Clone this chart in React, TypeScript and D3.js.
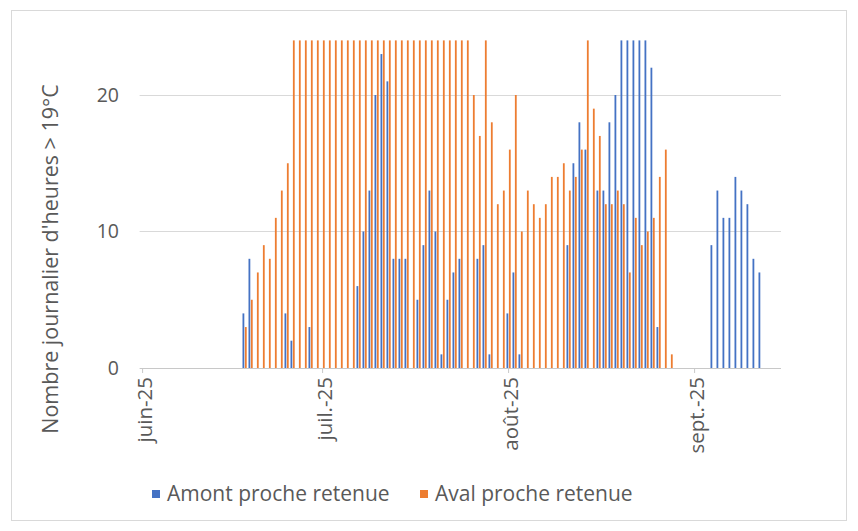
import React from "react";
import * as d3 from "d3";

// ---- data ----
const startDay = "2025-06-18"; // first day with values
const amont: number[] = [
  4, 8, 0, 0, 0, 0, 0, 4, 2, 0, 0, 3, 0, 0, 0, 0, 0, 0, 0, 6,
  10, 13, 20, 23, 21, 8, 8, 8, 0, 5, 9, 13, 10, 1, 5, 7, 8, 0, 0, 8,
  9, 1, 0, 0, 4, 7, 1, 0, 0, 0, 0, 0, 0, 0, 9, 15, 18, 16, 0, 13,
  13, 18, 20, 24, 24, 24, 24, 24, 22, 3, 0, 0, 0, 0, 0, 0, 0, 0, 9, 13,
  11, 11, 14, 13, 12, 8, 7,
];
const aval: number[] = [
  3, 5, 7, 9, 8, 11, 13, 15, 24, 24, 24, 24, 24, 24, 24, 24, 24, 24, 24, 24,
  24, 24, 24, 24, 24, 24, 24, 24, 24, 24, 24, 24, 24, 24, 24, 24, 24, 24, 20, 17,
  24, 18, 12, 13, 16, 20, 10, 13, 12, 11, 12, 14, 14, 15, 13, 14, 16, 24, 19, 17,
  12, 12, 13, 12, 7, 11, 9, 10, 11, 14, 16, 1, 0, 0, 0, 0, 0, 0, 0, 0,
  0, 0, 0, 0, 0, 0, 0,
];
const seriesNames = ["Amont proche retenue", "Aval proche retenue"];
const seriesColors = ["#4472C4", "#ED7D31"];
const monthTicks = ["2025-06-01", "2025-07-01", "2025-08-01", "2025-09-01"];
const monthLabels = ["juin-25", "juil.-25", "août-25", "sept.-25"];
const yTicks = [0, 10, 20];
const yTitle = "Nombre journalier d'heures > 19°C";

const parse = d3.utcParse("%Y-%m-%d");

export default function App() {
  const W = 858, H = 531;
  const plotLeft = 139.6, plotRight = 781;
  const x = d3
    .scaleUtc()
    .domain([parse("2025-06-01")!, parse("2025-09-16")!])
    .range([142.6, 142.6 + 107 * 6]);
  const y = d3.scaleLinear().domain([0, 24]).range([368, 40.4]);
  const start = parse(startDay)!;
  const days = amont.map((_, i) => d3.utcDay.offset(start, i));
  const bw = 1.8;
  const font = "'Open Sans', 'Liberation Sans', sans-serif";
  const textColor = "#595959";

  return (
    <svg
      width={W}
      height={H}
      style={{ position: "absolute", left: 0, top: 0, background: "#fff" }}
      fontFamily={font}
    >
      <rect x={11.5} y={10.5} width={835} height={510} fill="#fff" stroke="#d9d9d9" />
      {/* gridlines */}
      {yTicks.map((t) => (
        <line
          key={t}
          x1={plotLeft}
          x2={plotRight}
          y1={Math.round(y(t)) + 0.5}
          y2={Math.round(y(t)) + 0.5}
          stroke={t === 0 ? "#c8c8c8" : "#d9d9d9"}
          strokeWidth={1}
        />
      ))}
      {/* bars */}
      {days.map((d, i) => {
        const cx = x(d);
        return (
          <g key={i}>
            {amont[i] > 0 && (
              <rect
                x={cx - 0.3 - bw}
                y={y(amont[i])}
                width={bw}
                height={y(0) - y(amont[i])}
                fill={seriesColors[0]}
              />
            )}
            {aval[i] > 0 && (
              <rect
                x={cx + 0.3}
                y={y(aval[i])}
                width={bw}
                height={y(0) - y(aval[i])}
                fill={seriesColors[1]}
              />
            )}
          </g>
        );
      })}
      {/* x ticks */}
      {monthTicks.map((m, i) => {
        const px = x(parse(m)!);
        return (
          <g key={m}>
            <line x1={px} x2={px} y1={368.5} y2={373} stroke="#c8c8c8" />
            <text
              transform={`translate(${px + 2},377) rotate(-90)`}
              textAnchor="end"
              dy="0.35em"
              fontSize={20.5}
              fill={textColor}
            >
              {monthLabels[i]}
            </text>
          </g>
        );
      })}
      {/* y tick labels */}
      {yTicks.map((t) => (
        <text
          key={t}
          x={119}
          y={y(t)}
          dy="0.35em"
          textAnchor="end"
          fontSize={19.5}
          fill={textColor}
        >
          {t}
        </text>
      ))}
      {/* y title */}
      <text
        transform="translate(50,259) rotate(-90)"
        textAnchor="middle"
        dy="0.35em"
        fontSize={21.5}
        fill={textColor}
      >
        {yTitle}
      </text>
      {/* legend */}
      {seriesNames.map((n, i) => {
        const lx = i === 0 ? 152 : 420;
        return (
          <g key={n}>
            <rect x={lx} y={490} width={8} height={8} fill={seriesColors[i]} />
            <text x={lx + 15} y={494} dy="0.35em" fontSize={21} fill={textColor}>
              {n}
            </text>
          </g>
        );
      })}
    </svg>
  );
}
